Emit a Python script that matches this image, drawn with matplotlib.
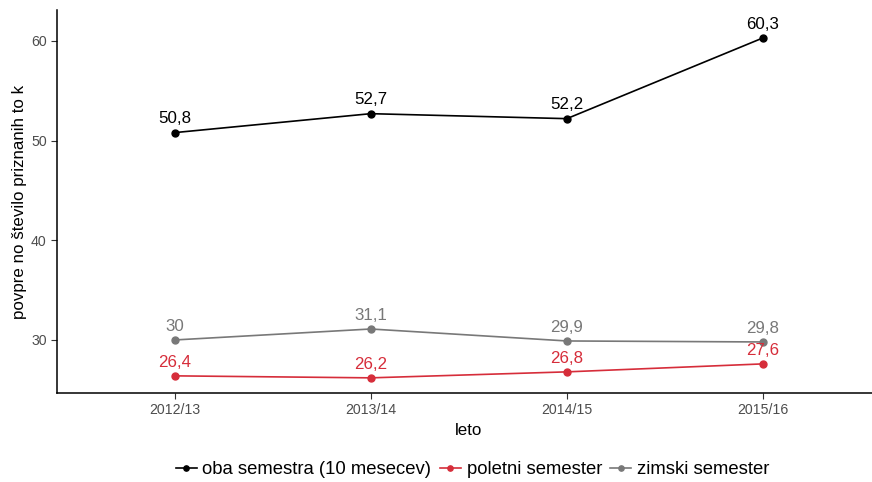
import matplotlib
matplotlib.use("Agg")
import matplotlib.pyplot as plt
from matplotlib.lines import Line2D

plt.rcParams['font.family'] = ['Liberation Sans', 'DejaVu Sans']

years = ["2012/13", "2013/14", "2014/15", "2015/16"]
oba = [50.8, 52.7, 52.2, 60.3]
poletni = [26.4, 26.2, 26.8, 27.6]
zimski = [30.0, 31.1, 29.9, 29.8]

series = [
    ("oba semestra (10 mesecev)", oba, "#000000"),
    ("poletni semester", poletni, "#d62d3a"),
    ("zimski semester", zimski, "#787878"),
]


def fmt(v):
    s = f"{v:.1f}".replace(".", ",")
    return s[:-2] if s.endswith(",0") else s


fig = plt.figure(figsize=(8.72, 4.82), dpi=100)
ax = fig.add_axes([57 / 872, 89 / 482, (880.6 - 57) / 872, 383 / 482])

xs = list(range(len(years)))
handles = []
for label, vals, color in series:
    ax.plot(xs, vals, color=color, lw=1.2, marker="o", ms=5, zorder=2)
    for x, v in zip(xs, vals):
        ax.annotate(fmt(v), (x, v), xytext=(0, 4.5), textcoords="offset points",
                    ha="center", va="bottom", color=color, fontsize=12.2)
    handles.append(Line2D([], [], color=color, lw=1.2, marker="o", ms=3.8, label=label))

ax.set_xlim(-0.6, 3.6)
ax.set_ylim(24.68, 63.1)
ax.set_xticks(xs)
ax.set_xticklabels(years)
ax.set_yticks([30, 40, 50, 60])
ax.tick_params(axis="both", colors="#333333", labelcolor="#4d4d4d",
               labelsize=10.2, length=4, width=0.8)
for side in ("top", "right"):
    ax.spines[side].set_visible(False)
for side in ("left", "bottom"):
    ax.spines[side].set_linewidth(1.1)

ax.set_xlabel("leto", fontsize=12.2, labelpad=4)
ax.set_ylabel("povpre no število priznanih to k", fontsize=12.2, labelpad=3)

fig.legend(handles=handles, loc="center", bbox_to_anchor=(472.5 / 872, 12 / 482),
           ncol=3, frameon=False, fontsize=13.3, handlelength=1.15,
           handletextpad=0.3, columnspacing=0.45)

fig.savefig("out.png", dpi=100)
